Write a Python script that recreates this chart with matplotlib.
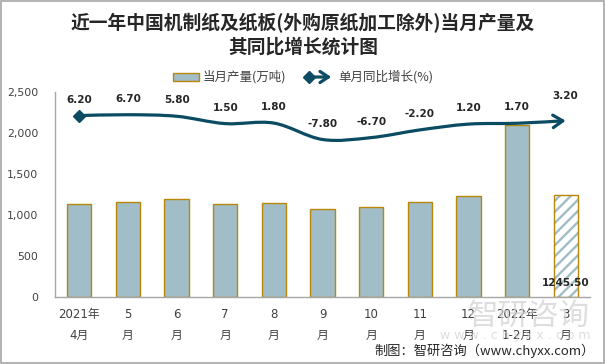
import matplotlib
matplotlib.use("Agg")
import matplotlib.pyplot as plt
from matplotlib.path import Path
from matplotlib.patches import FancyArrowPatch, Rectangle
from matplotlib.lines import Line2D
from matplotlib.ticker import FuncFormatter

plt.rcParams['font.family'] = ['DejaVu Sans', 'Noto Sans CJK SC']
plt.rcParams['hatch.linewidth'] = 1.7

# ---- data ----
categories = ["2021年\n4月", "5\n月", "6\n月", "7\n月", "8\n月", "9\n月",
              "10\n月", "11\n月", "12\n月", "2022年\n1-2月", "3\n月"]
output_wt = [1130, 1155, 1191, 1130, 1143, 1070, 1094, 1155, 1228, 2098, 1245.5]
growth_pct = [6.20, 6.70, 5.80, 1.50, 1.80, -7.80, -6.70, -2.20, 1.20, 1.70, 3.20]
y_ticks = [0, 500, 1000, 1500, 2000, 2500]

W, H = 606, 364
fig = plt.figure(figsize=(W / 100, H / 100), dpi=100)

def fx(px):
    return px / W

def fy(py):
    return 1 - py / H

ax = fig.add_axes([fx(55), fy(297), fx(590) - fx(55), fy(92) - fy(297)])

bar_face = '#A0BDC8'
bar_edge = '#B8860B'
line_col = '#0B4C63'

x = list(range(len(categories)))
n_solid = len(categories) - 1
ax.bar(x[:n_solid], output_wt[:n_solid], width=0.5, color=bar_face,
       edgecolor=bar_edge, linewidth=1.0, zorder=2)
# last (estimated) bar: hatched
ax.bar(x[n_solid:], output_wt[n_solid:], width=0.5, color='white',
       edgecolor=bar_face, hatch='///', linewidth=0, zorder=2)
ax.bar(x[n_solid:], output_wt[n_solid:], width=0.5, color='none',
       edgecolor=bar_edge, linewidth=1.0, zorder=3)

ax.set_xlim(-0.5, len(categories) - 0.5)
ax.set_ylim(0, 2500)
ax.set_yticks(y_ticks)
ax.yaxis.set_major_formatter(FuncFormatter(lambda v, p: f"{int(v):,}"))
ax.set_xticks(x)
ax.set_xticklabels(categories, fontsize=8.5, color='#404040', linespacing=1.75)
ax.tick_params(axis='both', length=0)
ax.tick_params(axis='y', labelsize=7.8, labelcolor='#404040', pad=12)
ax.tick_params(axis='x', pad=8)
for s in ['top', 'right']:
    ax.spines[s].set_visible(False)
for s in ['left', 'bottom']:
    ax.spines[s].set_color('#A6A6A6')
    ax.spines[s].set_linewidth(1.0)

ax.annotate(f"{output_wt[-1]:.2f}", xy=(x[-1], 0), xytext=(0, 10),
            textcoords='offset points', ha='center', va='center',
            fontsize=7.5, fontweight='bold', color='#262626', zorder=5)

# ---- secondary axis: growth line ----
ax2 = ax.twinx()
ax2.set_ylim(-100, 20)
ax2.axis('off')

pts = list(zip(x, growth_pct))
verts = [pts[0]]
codes = [Path.MOVETO]
for i in range(len(pts) - 1):
    p0 = pts[i - 1] if i > 0 else pts[i]
    p1 = pts[i]
    p2 = pts[i + 1]
    p3 = pts[i + 2] if i + 2 < len(pts) else pts[i + 1]
    c1 = (p1[0] + (p2[0] - p0[0]) / 6, p1[1] + (p2[1] - p0[1]) / 6)
    c2 = (p2[0] - (p3[0] - p1[0]) / 6, p2[1] - (p3[1] - p1[1]) / 6)
    verts += [c1, c2, p2]
    codes += [Path.CURVE4] * 3
curve = Path(verts, codes)
arrow = FancyArrowPatch(path=curve, arrowstyle='->,head_length=7,head_width=4.5',
                        color=line_col, linewidth=2.3, transform=ax2.transData,
                        zorder=4, capstyle='round', joinstyle='round')
ax2.add_patch(arrow)
ax2.plot([x[0]], [growth_pct[0]], marker='D', markersize=6, color=line_col, zorder=5)

for i, (xi, g) in enumerate(zip(x, growth_pct)):
    off = 18 if i == len(x) - 1 else 11.5
    ax2.annotate(f"{g:.2f}", xy=(xi, g), xytext=(0, off), textcoords='offset points',
                 ha='center', va='center', fontsize=7.5, fontweight='bold',
                 color='#262626', zorder=6)

# ---- title ----
fig.text(0.5, fy(23), "近一年中国机制纸及纸板(外购原纸加工除外)当月产量及",
         ha='center', va='center', fontsize=13.5, fontweight='bold',
         family=['Noto Sans CJK SC'], color='#262626')
fig.text(0.5, fy(47), "其同比增长统计图", ha='center', va='center', fontsize=13.5,
         fontweight='bold', family=['Noto Sans CJK SC'], color='#262626')

# ---- legend ----
fig.add_artist(Rectangle((fx(173), fy(81)), fx(199) - fx(173), fy(73) - fy(81),
                         transform=fig.transFigure, facecolor=bar_face,
                         edgecolor=bar_edge, linewidth=1.0))
fig.text(fx(203), fy(77), "当月产量(万吨)", ha='left', va='center', fontsize=9,
         family=['Noto Sans CJK SC'], color='#404040')
fig.add_artist(FancyArrowPatch((fx(309), fy(77)), (fx(334), fy(77)),
                               transform=fig.transFigure,
                               arrowstyle='->,head_length=6,head_width=4',
                               color=line_col, linewidth=2.3))
fig.add_artist(Line2D([fx(309)], [fy(77)], marker='D', markersize=6,
                      color=line_col, transform=fig.transFigure))
fig.text(fx(338), fy(77), "单月同比增长(%)", ha='left', va='center', fontsize=9,
         family=['Noto Sans CJK SC'], color='#404040')

# ---- watermark & credit ----
fig.text(fx(590), fy(316), "智研咨询", ha='right', va='center', fontsize=22,
         family=['Noto Sans CJK SC'], color='#D0D0D0', alpha=0.7, zorder=0)
fig.text(fx(590), fy(336), "w w w . c h y x x . c o m", ha='right', va='center',
         fontsize=9, color='#D0D0D0', alpha=0.7, zorder=0)
fig.text(fx(595), fy(351), "制图：智研咨询（www.chyxx.com）", ha='right', va='center',
         fontsize=9.5, family=['Noto Sans CJK SC'], color='#262626')

fig.add_artist(Rectangle((0.002, 0.003), 0.995, 0.993, transform=fig.transFigure,
                         fill=False, edgecolor='#A6A6A6', linewidth=1.2))

fig.savefig("out.png", dpi=100)
